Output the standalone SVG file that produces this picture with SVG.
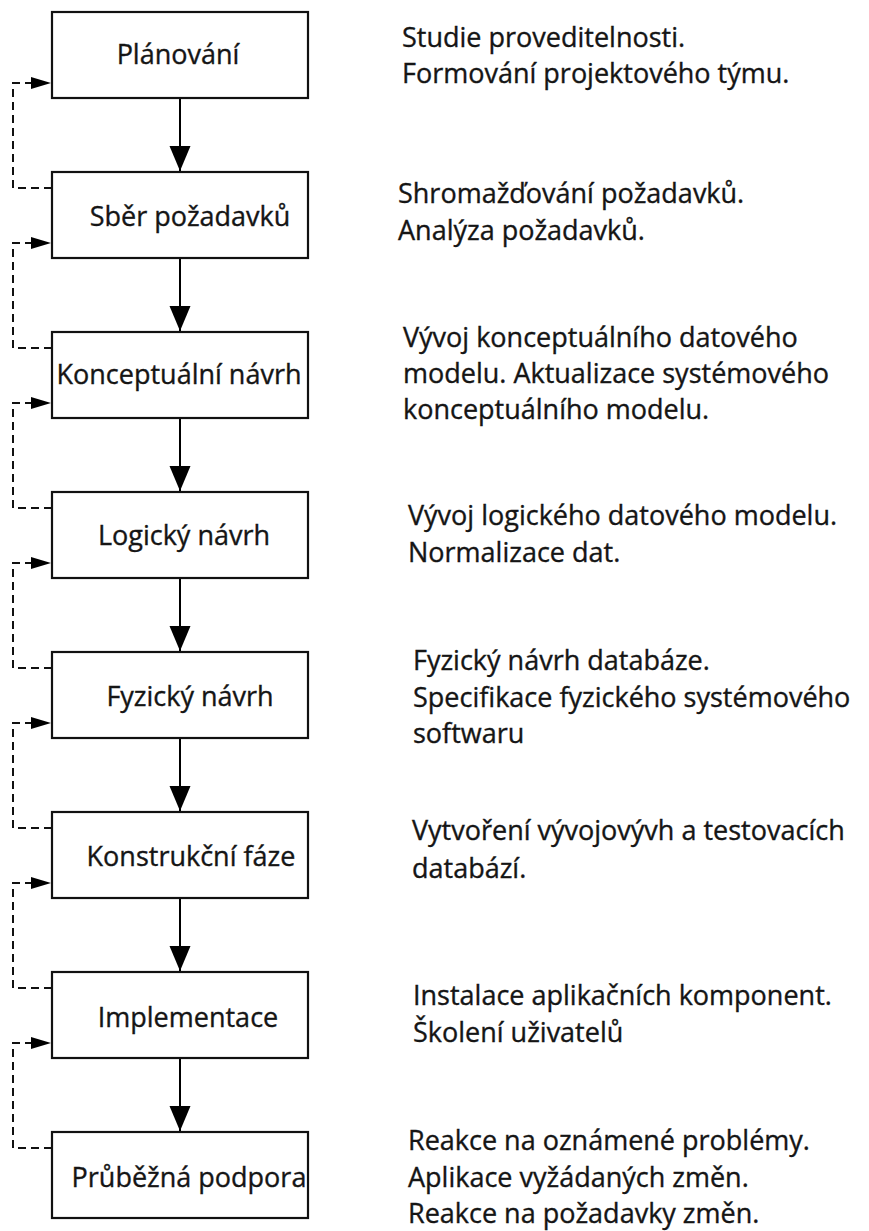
<svg xmlns="http://www.w3.org/2000/svg" width="869" height="1231" viewBox="0 0 869 1231">
<style>
.box{fill:#fff;stroke:#111;stroke-width:2.2}
.lbl{font-family:"Open Sans","Noto Sans",sans-serif;font-size:27px;fill:#151515;stroke:#151515;stroke-width:0.35;text-anchor:middle}
.desc{font-family:"Open Sans","Noto Sans",sans-serif;font-size:27px;fill:#151515;stroke:#151515;stroke-width:0.35}
.flow{fill:none;stroke:#000;stroke-width:2}
.fb{fill:none;stroke:#111;stroke-width:2;stroke-dasharray:8 5}
</style>
<defs>
<marker id="ah" markerUnits="userSpaceOnUse" markerWidth="26" markerHeight="22" refX="25" refY="10.5" orient="auto">
<path d="M0,0 L25,10.5 L0,21 z" fill="#000" stroke="none"/>
</marker>
<marker id="ahs" markerUnits="userSpaceOnUse" markerWidth="21" markerHeight="13" refX="20" refY="6" orient="auto">
<path d="M0,0 L20,6 L0,12 z" fill="#000" stroke="none"/>
</marker>
</defs>
<g id="connectors">
<path class="flow" d="M180,98 V171" marker-end="url(#ah)"/>
<path class="flow" d="M180,258 V331" marker-end="url(#ah)"/>
<path class="flow" d="M180,418 V491" marker-end="url(#ah)"/>
<path class="flow" d="M180,578 V651" marker-end="url(#ah)"/>
<path class="flow" d="M180,738 V811" marker-end="url(#ah)"/>
<path class="flow" d="M180,898 V971" marker-end="url(#ah)"/>
<path class="flow" d="M180,1058 V1131" marker-end="url(#ah)"/>
<path class="fb" d="M52,188 H13 V83 H51" marker-end="url(#ahs)"/>
<path class="fb" d="M52,348 H13 V243 H51" marker-end="url(#ahs)"/>
<path class="fb" d="M52,508 H13 V403 H51" marker-end="url(#ahs)"/>
<path class="fb" d="M52,668 H13 V563 H51" marker-end="url(#ahs)"/>
<path class="fb" d="M52,828 H13 V723 H51" marker-end="url(#ahs)"/>
<path class="fb" d="M52,988 H13 V883 H51" marker-end="url(#ahs)"/>
<path class="fb" d="M52,1148 H13 V1043 H51" marker-end="url(#ahs)"/>
</g>
<g id="n1"><rect class="box" x="52" y="12" width="256" height="86"/><text class="lbl" x="178" y="64">Plánování</text>
<text class="desc" x="402" y="47">Studie proveditelnosti.</text><text class="desc" x="402" y="83">Formování projektového týmu.</text></g>
<g id="n2"><rect class="box" x="52" y="172" width="256" height="86"/><text class="lbl" x="190" y="226">Sběr požadavků</text>
<text class="desc" x="398" y="203">Shromažďování požadavků.</text><text class="desc" x="398" y="240">Analýza požadavků.</text></g>
<g id="n3"><rect class="box" x="52" y="332" width="256" height="86"/><text class="lbl" x="179" y="384">Konceptuální návrh</text>
<text class="desc" x="403" y="347">Vývoj konceptuálního datového</text><text class="desc" x="403" y="383">modelu. Aktualizace systémového</text><text class="desc" x="403" y="419">konceptuálního modelu.</text></g>
<g id="n4"><rect class="box" x="52" y="492" width="256" height="86"/><text class="lbl" x="184" y="545">Logický návrh</text>
<text class="desc" x="408" y="525">Vývoj logického datového modelu.</text><text class="desc" x="408" y="562">Normalizace dat.</text></g>
<g id="n5"><rect class="box" x="52" y="652" width="256" height="86"/><text class="lbl" x="190" y="706">Fyzický návrh</text>
<text class="desc" x="413" y="670">Fyzický návrh databáze.</text><text class="desc" x="413" y="707">Specifikace fyzického systémového</text><text class="desc" x="413" y="743">softwaru</text></g>
<g id="n6"><rect class="box" x="52" y="812" width="256" height="86"/><text class="lbl" x="191" y="866">Konstrukční fáze</text>
<text class="desc" x="412" y="840">Vytvoření vývojovývh a testovacích</text><text class="desc" x="412" y="878">databází.</text></g>
<g id="n7"><rect class="box" x="52" y="972" width="256" height="86"/><text class="lbl" x="188" y="1027">Implementace</text>
<text class="desc" x="413" y="1005">Instalace aplikačních komponent.</text><text class="desc" x="413" y="1042">Školení uživatelů</text></g>
<g id="n8"><rect class="box" x="52" y="1132" width="256" height="86"/><text class="lbl" x="189" y="1187">Průběžná podpora</text>
<text class="desc" x="408" y="1150">Reakce na oznámené problémy.</text><text class="desc" x="408" y="1187">Aplikace vyžádaných změn.</text><text class="desc" x="408" y="1223">Reakce na požadavky změn.</text></g>
</svg>
